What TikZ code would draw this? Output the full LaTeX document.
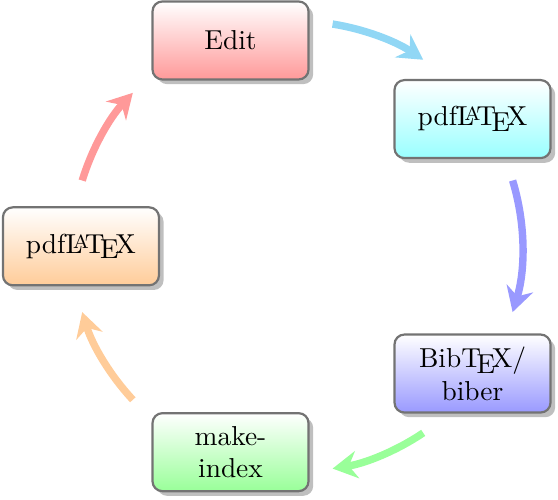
\documentclass[tikz,border=0pt]{standalone}
\usetikzlibrary{shadows,arrows.meta}
\definecolor{arrcyan}{RGB}{145,215,245}
\tikzset{
  module/.style={draw=black!55, line width=0.8pt, rounded corners=3.6pt,
    minimum width=2cm, minimum height=1cm, align=center, text width=1.75cm,
    drop shadow={shadow xshift=1.7pt, shadow yshift=-1.7pt, opacity=0.5, fill=black!50},
    top color=white},
  arr/.style={line width=2.7pt, -{Stealth[length=9pt,width=10pt,inset=3pt]}}
}
\begin{document}
\begin{tikzpicture}
\useasboundingbox (-3.813,-3.240) rectangle (3.341,3.158);
\node[module, bottom color=red!40] (edit) at (108:2.775) {Edit};
\node[module, bottom color=cyan!40] (pdfa) at (36:2.775) {pdf\LaTeX};
\node[module, bottom color=blue!40] (bib) at (-36:2.775) {Bib\TeX/\\biber};
\node[module, bottom color=green!40] (mki) at (-108:2.775) {make-\\index};
\node[module, bottom color=orange!40] (pdfb) at (180:2.775) {pdf\LaTeX};
\coordinate (a1) at (81:2.885);
\coordinate (a2) at (17:2.885);
\coordinate (a3) at (-56:2.885);
\coordinate (a4) at (-137:2.885);
\coordinate (a5) at (163:2.885);
\draw[arr, arrcyan] (a1) arc[start angle=81, end angle=56, radius=2.885];
\draw[arr, blue!40] (a2) arc[start angle=17, end angle=-17, radius=2.885];
\draw[arr, green!40] (a3) arc[start angle=-56, end angle=-81, radius=2.885];
\draw[arr, orange!40] (a4) arc[start angle=-137, end angle=-163, radius=2.885];
\draw[arr, red!40] (a5) arc[start angle=163, end angle=137, radius=2.885];
\end{tikzpicture}
\end{document}
